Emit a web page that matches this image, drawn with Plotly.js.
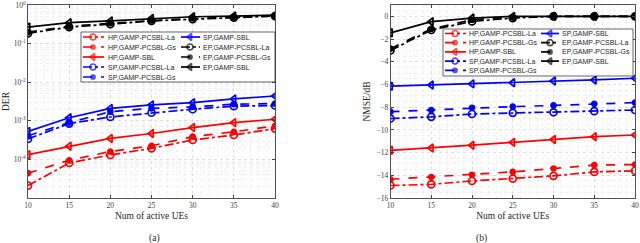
<!DOCTYPE html>
<html><head><meta charset="utf-8">
<script src="https://cdn.plot.ly/plotly-3.0.1.min.js"></script>
<style>html,body{margin:0;padding:0;background:#fff;}#chart{width:640px;height:243px;}</style>
</head><body><div id="chart"></div>
<script>
const ues = [10, 15, 20, 25, 30, 35, 40];
const names = ['HP,GAMP-PCSBL-La','HP,GAMP-PCSBL-Gs','HP,GAMP-SBL','SP,GAMP-PCSBL-La','SP,GAMP-PCSBL-Gs','SP,GAMP-SBL','EP,GAMP-PCSBL-La','EP,GAMP-PCSBL-Gs','EP,GAMP-SBL'];
// DER (subplot a)
const derHPLa  = [2.1e-5, 8.1e-5, 1.3e-4, 1.94e-4, 3.2e-4, 4.3e-4, 6.3e-4];
const derHPGs  = [4.4e-5, 9.5e-5, 1.6e-4, 2.26e-4, 3.9e-4, 5.2e-4, 7.4e-4];
const derHPSBL = [1.33e-4, 2.2e-4, 3.5e-4, 4.7e-4, 6.7e-4, 9.0e-4, 1.1e-3];
const derSPLa  = [3.4e-4, 8.5e-4, 1.26e-3, 1.62e-3, 2.0e-3, 2.4e-3, 2.5e-3];
const derSPGs  = [4.1e-4, 9.0e-4, 1.73e-3, 2.1e-3, 2.3e-3, 2.7e-3, 2.8e-3];
const derSPSBL = [5.3e-4, 1.2e-3, 2.1e-3, 2.6e-3, 2.95e-3, 3.7e-3, 4.4e-3];
const derEPLa  = [0.186, 0.27, 0.32, 0.39, 0.43, 0.47, 0.52];
const derEPGs  = [0.20, 0.28, 0.34, 0.40, 0.45, 0.48, 0.52];
const derEPSBL = [0.27, 0.35, 0.39, 0.45, 0.50, 0.52, 0.55];
// NMSE dB (subplot b)
const nmHPLa  = [-14.9, -14.8, -14.5, -14.3, -14.05, -13.7, -13.6];
const nmHPGs  = [-14.35, -14.15, -13.95, -13.7, -13.4, -13.1, -13.05];
const nmHPSBL = [-11.8, -11.6, -11.35, -11.1, -10.85, -10.6, -10.45];
const nmSPLa  = [-9.0, -8.85, -8.6, -8.5, -8.45, -8.35, -8.25];
const nmSPGs  = [-8.4, -8.25, -8.05, -7.95, -7.85, -7.7, -7.6];
const nmSPSBL = [-6.15, -6.05, -5.95, -5.85, -5.7, -5.6, -5.45];
const nmEPLa  = [-3.0, -1.2, -0.45, -0.15, 0, 0, 0];
const nmEPGs  = [-2.85, -1.1, -0.3, -0.1, 0, 0, 0];
const nmEPSBL = [-1.45, -0.47, -0.15, 0.0, 0, 0, 0];
const derTickVals = [1e-4, 1e-3, 1e-2, 1e-1, 1];
const derTickText = ['10<sup>-4</sup>','10<sup>-3</sup>','10<sup>-2</sup>','10<sup>-1</sup>','10<sup>0</sup>'];

const colors = ['#ff0000','#ff0000','#ff0000','#0000ff','#0000ff','#0000ff','#000000','#000000','#000000'];
const dashes = ['dashdot','dash','solid','dashdot','dash','solid','dashdot','dash','solid'];
const syms = ['circle-open','circle','triangle-left-open','circle-open','circle','triangle-left-open','circle-open','circle','triangle-left-open'];
const sizes = [7,5,7,7,5,7,7,5,7];

const derData = [derHPLa, derHPGs, derHPSBL, derSPLa, derSPGs, derSPSBL, derEPLa, derEPGs, derEPSBL];
const nmData = [nmHPLa, nmHPGs, nmHPSBL, nmSPLa, nmSPGs, nmSPSBL, nmEPLa, nmEPGs, nmEPSBL];

const traces = [];
function add(data, xa, ya) {
  data.forEach((ys, i) => {
    traces.push({
      x: ues, y: ys, xaxis: xa, yaxis: ya, name: names[i], showlegend: false,
      type: 'scatter', mode: 'lines+markers',
      line: {color: colors[i], width: 1.7, dash: dashes[i]},
      marker: {symbol: syms[i], size: sizes[i], color: colors[i], line: {color: colors[i], width: 1.7}}
    });
  });
}
add(derData, 'x', 'y');
add(nmData, 'x2', 'y2');

// Hand-built legends on an invisible overlay subplot whose units are pixels
const legFont = {family: 'Liberation Sans, Arial, sans-serif', size: 7, color: '#262626'};
const legends = [
  {box: [81, 32, 275, 82], rows: [37, 47, 57, 67, 77], cols: [[83, 93, 104, 107], [181, 190, 200, 202]]},
  {box: [443, 29, 633, 76], rows: [33.5, 42.7, 51.9, 61.1, 70.3], cols: [[445, 455, 466, 468], [541, 550, 559, 561]]}
];
const shapes = [];
const annotations = [];
legends.forEach(L => {
  shapes.push({type: 'rect', xref: 'x3', yref: 'y3', layer: 'below', x0: L.box[0], x1: L.box[2], y0: L.box[1], y1: L.box[3],
    fillcolor: '#ffffff', line: {color: '#262626', width: 0.7}});
  names.forEach((nm, i) => {
    const c = L.cols[i < 5 ? 0 : 1];
    const yr = L.rows[i < 5 ? i : i - 5];
    traces.push({
      x: [c[0], c[1], c[2]], y: [yr, yr, yr], xaxis: 'x3', yaxis: 'y3', showlegend: false, hoverinfo: 'skip',
      type: 'scatter', mode: 'lines+markers', cliponaxis: false,
      line: {color: colors[i], width: 1.7, dash: dashes[i]},
      marker: {symbol: syms[i], size: [0, sizes[i] - 1, 0], color: colors[i], line: {color: colors[i], width: [0, 1.7, 0]}}
    });
    annotations.push({text: nm, xref: 'x3', yref: 'y3', x: c[3], y: yr, xanchor: 'left', yanchor: 'middle',
      showarrow: false, font: legFont, borderpad: 0});
  });
});

const tickFont = {family: 'Liberation Serif, Times New Roman, serif', size: 7.5, color: '#404040'};
const titleFont = {family: 'Liberation Serif, Times New Roman, serif', size: 9.5, color: '#262626'};
const gridCol = '#d9d9d9';
function xax(domain, anchor) {
  return {
    domain: domain, anchor: anchor, range: [10, 40], tickvals: ues, ticks: 'inside', ticklen: 3,
    showline: true, mirror: 'ticks', linecolor: '#262626', linewidth: 0.8, ticklabeloverflow: 'allow',
    showgrid: true, gridcolor: gridCol, griddash: 'dot', gridwidth: 0.8, zeroline: false,
    tickfont: tickFont,
    minor: {dtick: 1, showgrid: true, gridcolor: '#e6e6e6', griddash: 'dot', gridwidth: 0.6},
    title: {text: 'Num of active UEs', font: titleFont, standoff: 3}
  };
}

annotations.push(
  {text: '(a)', xref: 'paper', yref: 'paper', x: 147/640, y: (198-238)/193, showarrow: false, yanchor: 'middle', font: titleFont},
  {text: '(b)', xref: 'paper', yref: 'paper', x: 489/640, y: (198-238)/193, showarrow: false, yanchor: 'middle', font: titleFont}
);

const layout = {
  width: 640, height: 243, margin: {l: 0, r: 0, t: 5, b: 45},
  paper_bgcolor: '#ffffff', plot_bgcolor: 'rgba(0,0,0,0)', showlegend: false,
  xaxis: xax([28/640, 275/640], 'y'),
  yaxis: {
    domain: [0, 1], anchor: 'x', type: 'log', range: [-5, 0.003],
    tickvals: derTickVals, ticktext: derTickText, ticks: 'inside', ticklen: 3, ticklabeloverflow: 'allow',
    showline: true, mirror: 'ticks', linecolor: '#262626', linewidth: 0.8,
    showgrid: true, gridcolor: gridCol, griddash: 'dot', gridwidth: 0.8, zeroline: false,
    tickfont: tickFont,
    minor: {dtick: 'D1', showgrid: true, gridcolor: '#e6e6e6', griddash: 'dot', gridwidth: 0.6},
    title: {text: 'DER', font: titleFont, standoff: 2}
  },
  xaxis2: xax([390.5/640, 635/640], 'y2'),
  yaxis2: {
    domain: [0, 1], anchor: 'x2', range: [-16, 1], dtick: 2, tick0: 0, ticks: 'inside', ticklen: 3, ticklabeloverflow: 'allow',
    showline: true, mirror: 'ticks', linecolor: '#262626', linewidth: 0.8,
    showgrid: true, gridcolor: gridCol, griddash: 'dot', gridwidth: 0.8, zeroline: false,
    tickfont: tickFont,
    minor: {dtick: 0.5, showgrid: true, gridcolor: '#e6e6e6', griddash: 'dot', gridwidth: 0.6},
    title: {text: 'NMSE/dB', font: titleFont, standoff: 4}
  },
  xaxis3: {domain: [0, 1], anchor: 'y3', range: [0, 640], visible: false, fixedrange: true},
  yaxis3: {domain: [0, 1], anchor: 'x3', range: [198, 5], visible: false, fixedrange: true},
  shapes: shapes,
  annotations: annotations
};
Plotly.newPlot('chart', traces, layout, {staticPlot: true, displayModeBar: false});
</script></body></html>
